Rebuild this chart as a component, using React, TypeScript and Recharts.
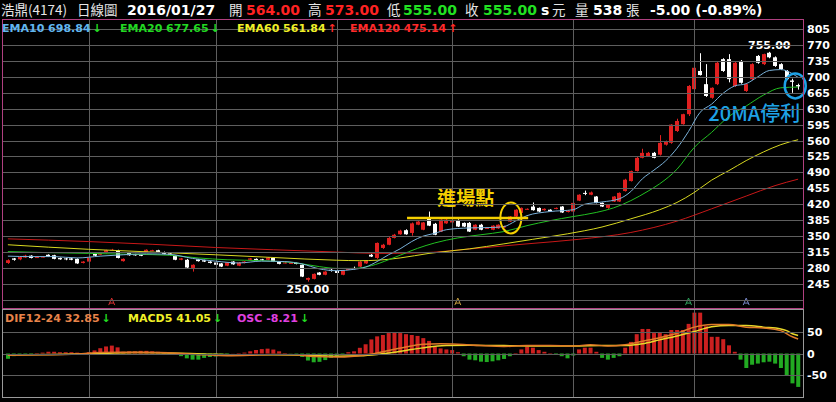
import React from "react";
import {
  ComposedChart,
  Bar,
  Line,
  XAxis,
  YAxis,
  ReferenceLine,
  ReferenceDot,
  Cell,
} from "recharts";

// Daily candles, oldest first
const opens = [
  291, 301, 299, 303, 307, 303, 304, 309, 308, 302,
  301, 301, 300, 291, 294, 311, 309, 313, 319, 318,
  295, 313, 310, 309, 315, 318, 319, 315, 312, 307,
  298, 298, 280, 299, 297, 294, 292, 290, 285, 294,
  285, 291, 298, 300, 299, 298, 302, 293, 291, 290,
  291, 287, 254, 256, 270, 265, 276, 274, 265, 277,
  280, 283, 290, 309, 302, 324, 331, 346, 354, 363,
  357, 375, 364, 390, 377, 360, 378, 380, 385, 379,
  379, 364, 375, 367, 364, 367, 369, 382, 393, 401,
  409, 415, 412, 407, 408, 410, 415, 403, 404, 428,
  445, 441, 437, 423, 412, 426, 426, 449, 471, 493,
  522, 526, 533, 529, 551, 555, 581, 596, 618, 673,
  713, 684, 654, 684, 739, 739, 680, 735, 669, 695,
  746, 728, 753, 743, 728, 713, 692, 682,
];
const highs = [
  299, 302, 306, 309, 308, 305, 306, 310, 309, 303,
  302, 302, 301, 295, 310, 312, 315, 320, 322, 320,
  301, 314, 311, 310, 321, 320, 320, 316, 313, 308,
  302, 300, 288, 300, 298, 295, 293, 291, 293, 295,
  293, 295, 302, 301, 300, 304, 303, 294, 293, 292,
  292, 288, 259, 268, 271, 273, 279, 275, 275, 279,
  283, 295, 297, 311, 336, 333, 348, 355, 364, 365,
  380, 384, 381, 404, 379, 387, 388, 387, 387, 380,
  381, 376, 377, 369, 374, 376, 373, 394, 409, 413,
  411, 424, 413, 411, 409, 413, 416, 407, 424, 442,
  450, 448, 438, 424, 420, 438, 446, 476, 494, 524,
  542, 535, 535, 572, 560, 596, 608, 619, 682, 750,
  752, 728, 677, 733, 741, 750, 733, 737, 686, 730,
  748, 751, 755, 745, 730, 715, 696, 685,
];
const lows = [
  289, 296, 297, 302, 301, 302, 303, 304, 299, 298,
  297, 297, 289, 290, 292, 306, 308, 312, 318, 301,
  294, 307, 307, 306, 314, 317, 313, 310, 308, 297,
  297, 280, 272, 294, 293, 290, 286, 282, 284, 287,
  284, 290, 297, 295, 296, 297, 293, 288, 290, 289,
  288, 260, 250, 255, 264, 264, 272, 268, 264, 276,
  277, 282, 289, 304, 300, 322, 330, 345, 353, 353,
  351, 374, 363, 372, 352, 359, 377, 379, 370, 370,
  359, 363, 363, 366, 363, 366, 368, 381, 392, 400,
  408, 406, 403, 406, 403, 409, 401, 402, 403, 427,
  440, 440, 422, 414, 410, 425, 425, 448, 470, 492,
  521, 525, 521, 527, 549, 553, 579, 595, 614, 669,
  703, 656, 652, 682, 711, 688, 678, 685, 667, 693,
  729, 726, 741, 722, 715, 693, 665, 672,
];
const closes = [
  297, 298, 304, 307, 302, 304, 305, 305, 300, 299,
  299, 298, 290, 294, 303, 307, 314, 319, 320, 302,
  300, 308, 308, 307, 320, 319, 314, 311, 309, 298,
  301, 281, 287, 295, 294, 291, 287, 283, 292, 288,
  292, 294, 301, 296, 297, 303, 294, 289, 292, 291,
  289, 261, 258, 267, 265, 272, 275, 269, 274, 278,
  279, 294, 296, 305, 335, 331, 346, 353, 362, 354,
  378, 382, 380, 373, 353, 386, 386, 385, 371, 371,
  360, 375, 364, 368, 373, 375, 372, 393, 408, 412,
  410, 407, 404, 410, 404, 412, 402, 406, 423, 441,
  444, 446, 423, 415, 419, 437, 445, 474, 493, 522,
  533, 533, 522, 555, 559, 595, 603, 618, 680, 720,
  704, 658, 676, 731, 713, 695, 731, 687, 684, 728,
  731, 750, 743, 724, 717, 695, 689, 679,
];

// Moving averages, sampled at the listed candle indexes
const ema10At = [0, 4, 8, 12, 16, 20, 24, 28, 32, 36, 40, 44, 48, 51, 54, 57, 60, 62, 64, 66, 68, 70, 72, 74, 76, 80, 84, 86, 88, 90, 94, 98, 100, 103, 106, 108, 110, 112, 114, 116, 118, 120, 122, 124, 126, 128, 130, 132, 134, 136, 137];
const ema10 = [306, 305, 305, 302, 306, 309, 311, 310, 301, 295, 291, 295, 294, 289, 278, 274, 277, 282, 294, 309, 322, 338, 350, 356, 364, 368, 369, 371, 383, 395, 404, 408, 420, 425, 432, 448, 476, 495, 515, 543, 580, 622, 640, 664, 680, 685, 700, 714, 716, 707, 698.84];
const ema20At = [0, 6, 14, 22, 28, 33, 38, 44, 50, 54, 57, 60, 63, 66, 68, 71, 74, 78, 82, 86, 90, 94, 98, 102, 105, 108, 111, 113, 116, 119, 122, 125, 128, 131, 134, 137];
const ema20 = [316, 314, 312, 310, 308, 302, 298, 296, 291, 283, 279, 279, 285, 298, 308, 323, 335, 346, 353, 360, 373, 384, 393, 402, 412, 428, 449, 465, 497, 545, 578, 613, 636, 660, 676, 677.65];
const ema60At = [0, 14, 25, 36, 46, 57, 61, 64, 68, 73, 80, 86, 91, 97, 103, 108, 113, 116, 119, 122, 125, 128, 131, 134, 137];
const ema60 = [331, 321, 315, 309, 303, 297, 296, 297, 302, 312, 322, 333, 343, 355, 370, 388, 408, 424, 446, 473, 494, 516, 535, 551, 561.84];
const ema120At = [0, 14, 25, 36, 46, 57, 64, 71, 82, 90, 99, 108, 116, 122, 128, 133, 137];
const ema120 = [344, 338, 332, 325, 320, 315, 312, 313, 324, 333, 343, 358, 383, 410, 438, 461, 475.14];

// MACD panel: oscillator per candle, DIF / MACD lines at sampled indexes
const osc = [
  -1.3, -0.65, -0.43, -0.32, -0.22, 0.11, 0.22, 0.43, 0.43, 0.32,
  0.32, 0.32, 0.22, 0.11, 0.32, 0.76, 1.3, 1.73, 1.94, 1.51,
  0.43, 0.54, 0.54, 0.65, 0.65, 0.54, 0.43, 0.32, 0.11, -0.32,
  -0.65, -1.19, -1.51, -1.51, -1.08, -0.86, -0.76, -0.54, -0.22, 0.03,
  0.11, 0.22, 0.54, 0.86, 1.08, 1.19, 0.97, 0.54, 0.11, -0.05,
  -0.11, -0.86, -1.73, -2.16, -2.05, -1.62, -1.08, -0.65, -0.32, 0.32,
  0.54, 1.4, 2.27, 3.46, 4.21, 4.54, 5.02, 5.18, 5.02, 4.75,
  4.54, 4.32, 3.78, 3.1, 1.67, 1.25, 1.0, 0.84, 0.32, -0.67,
  -1.51, -1.67, -2.01, -2.1, -1.92, -1.67, -1.34, -0.67, 0.11, 1.0,
  1.67, 1.43, 0.84, 0.42, 0.11, -0.22, -0.67, -1.18, -0.51, 1.0,
  1.43, 1.43, 0.42, -1.08, -1.51, -1.08, -0.67, 1.43, 2.85, 4.75,
  6.03, 6.03, 5.02, 5.18, 4.75, 5.78, 5.78, 5.78, 7.28, 10.04,
  10.04, 6.7, 4.1, 4.1, 3.52, 2.01, 0.42, -1.51, -3.56, -2.76,
  -2.48, -2.16, -2.01, -2.48, -3.56, -5.51, -7.34, -8.21,
];
const difAt = [0, 6, 12, 16, 20, 26, 30, 34, 38, 42, 46, 50, 53, 57, 60, 63, 66, 69, 72, 75, 78, 82, 86, 90, 94, 98, 101, 104, 107, 110, 113, 116, 119, 122, 125, 128, 131, 134, 136, 137];
const dif = [-4, -3, -1, 2, 3, 2, 0, -3, -5, -4, -2, -3, -7, -8, -6, -1, 7, 15, 21, 22, 21, 18, 16, 18, 18, 17, 20, 17, 20, 28, 36, 46, 60, 66, 66, 60, 58, 52, 38, 32.85];
const macdAt = [0, 8, 16, 22, 28, 34, 40, 46, 52, 57, 61, 64, 67, 70, 73, 76, 80, 86, 92, 98, 103, 107, 110, 113, 116, 119, 122, 125, 128, 131, 134, 135, 136, 137];
const macd = [-3, -2, 0, 2, 1, -1, -3, -3, -4, -6, -5, -2, 3, 9, 15, 18, 19, 18, 17, 17, 18, 18, 22, 31, 40, 50, 61, 64, 63.5, 60, 56, 52, 45, 41.05];

const priceTicks = [210, 245, 280, 315, 350, 385, 420, 455, 490, 525, 560, 595, 630, 665, 700, 735, 770, 805];
const macdTicks = [-50, 0, 50];
const monthIdx = [14, 36, 57, 77, 98, 119];
const signalIdx = [18, 78, 118, 128];
const signalColors = ["#d83030", "#c8a040", "#30a860", "#7888c8"];

const RED = "#e02020";
const WHITE = "#ffffff";
const GRID = "#5e5e5e";
const NUM_FONT = "'DejaVu Sans', Verdana, sans-serif";
const CJK_FONT = "'Noto Sans CJK TC', 'Noto Sans CJK SC', sans-serif";
const N = closes.length;
const PLOT_LEFT = 3;
const PLOT_RIGHT = 803;

const toMap = (at: number[], vals: number[]) => new Map(at.map((k, j) => [k, vals[j]]));
const m10 = toMap(ema10At, ema10);
const m20 = toMap(ema20At, ema20);
const m60 = toMap(ema60At, ema60);
const m120 = toMap(ema120At, ema120);
const mDif = toMap(difAt, dif);
const mMacd = toMap(macdAt, macd);

const priceRows = closes.map((c, i) => ({
  i,
  o: opens[i],
  h: highs[i],
  l: lows[i],
  c,
  hl: [lows[i], highs[i]],
  ema10: m10.get(i) ?? null,
  ema20: m20.get(i) ?? null,
  ema60: m60.get(i) ?? null,
  ema120: m120.get(i) ?? null,
}));

const macdRows = osc.map((v, i) => ({
  i,
  osc: v,
  dif: mDif.get(i) ?? null,
  macd: mMacd.get(i) ?? null,
}));

const hiVal = Math.max(...highs);
const hiIdx = highs.indexOf(hiVal);
const loVal = Math.min(...lows);
const loIdx = lows.indexOf(loVal);

const last = (a: number[]) => a[a.length - 1];

// candle drawn inside the low..high range bar
const Candle = (props: any) => {
  const { x, y, width, height, payload } = props;
  if (x == null || !payload) return <g />;
  const top = Math.min(y, y + height);
  const span = Math.abs(height);
  const { o, h, l, c } = payload;
  const range = h - l || 1;
  const toY = (v: number) => top + ((h - v) / range) * span;
  const color = c >= o ? RED : WHITE;
  const bx = Math.round(x + width / 2 - 2);
  const yTop = toY(Math.max(o, c));
  const yBot = toY(Math.min(o, c));
  return (
    <g>
      <rect x={bx + 2} y={top} width={1} height={Math.max(span, 1)} fill={color} />
      <rect x={bx} y={yTop} width={4} height={Math.max(yBot - yTop, 1)} fill={color} />
    </g>
  );
};

// vertical separators, snapped to the pixel grid
const GridLine = (p: any) => {
  const x = Math.round(p.x1) + 0.5;
  return <line x1={x} x2={x} y1={p.y1} y2={p.y2} stroke={GRID} strokeWidth={1} />;
};

// axis label plus its horizontal grid row across the panel
const AxisTick = (props: any) => {
  const { x, y, payload } = props;
  const gy = Math.round(y) + 0.5;
  return (
    <g>
      <line x1={PLOT_LEFT} x2={PLOT_RIGHT} y1={gy} y2={gy} stroke={GRID} strokeWidth={1} />
      {payload.value !== 210 && (
        <text x={x} y={y + 4} fill="#fff" fontSize={11} fontWeight={700} fontFamily={NUM_FONT}>
          {payload.value}
        </text>
      )}
    </g>
  );
};

const headSegs = [
  { t: "浩鼎(4174)", x: 1, c: "#e6e6e6", cjk: true },
  { t: "日線圖", x: 77, c: "#e6e6e6", cjk: true },
  { t: "2016/01/27", x: 127, c: "#ffffff" },
  { t: "開", x: 229, c: "#e6e6e6", cjk: true },
  { t: "564.00", x: 246, c: "#ff2222" },
  { t: "高", x: 308, c: "#e6e6e6", cjk: true },
  { t: "573.00", x: 325, c: "#ff2222" },
  { t: "低", x: 387, c: "#e6e6e6", cjk: true },
  { t: "555.00", x: 403, c: "#22e022" },
  { t: "收", x: 465, c: "#e6e6e6", cjk: true },
  { t: "555.00", x: 483, c: "#22e022" },
  { t: "s", x: 541, c: "#ffffff" },
  { t: "元", x: 552, c: "#e6e6e6", cjk: true },
  { t: "量", x: 575, c: "#e6e6e6", cjk: true },
  { t: "538", x: 593, c: "#ffffff" },
  { t: "張", x: 626, c: "#e6e6e6", cjk: true },
  { t: "-5.00 (-0.89%)", x: 650, c: "#ffffff" },
];

const UP = "#ff2a2a";
const DOWN = "#22dd22";

const emaLegend = [
  { t: `EMA10 ${last(ema10).toFixed(2)}`, x: 2, c: "#62b6ee", up: false },
  { t: `EMA20 ${last(ema20).toFixed(2)}`, x: 120, c: "#22d822", up: false },
  { t: `EMA60 ${last(ema60).toFixed(2)}`, x: 237, c: "#f0f028", up: true },
  { t: `EMA120 ${last(ema120).toFixed(2)}`, x: 350, c: "#ff2a2a", up: true },
];

const macdLegend = [
  { t: `DIF12-24 ${last(dif).toFixed(2)}`, x: 5, c: "#e8844a" },
  { t: `MACD5 ${last(macd).toFixed(2)}`, x: 128, c: "#f0f028" },
  { t: `OSC ${last(osc).toFixed(2)}`, x: 237, c: "#e040e0" },
];

const ANNOT = "#f5d000";
const EXIT = "#1ea2e6";

const gridCol = (m: number) => (
  <ReferenceLine key={`v${m}`} xAxisId="n" x={m} shape={GridLine} />
);

export default function App() {
  return (
    <div style={{ position: "absolute", left: 0, top: 0, width: 836, height: 402, background: "#000", overflow: "hidden" }}>
      {/* price panel */}
      <div style={{ position: "absolute", left: 0, top: 0 }}>
        <ComposedChart width={836} height={310} data={priceRows} margin={{ top: 20, right: 0, bottom: 2, left: PLOT_LEFT }}>
          <XAxis dataKey="i" type="category" hide padding={{ left: 2, right: 2 }} />
          <XAxis xAxisId="n" dataKey="i" type="number" domain={[-0.5, N - 0.5]} allowDataOverflow hide padding={{ left: 2, right: 2 }} />
          <YAxis
            orientation="right"
            width={33}
            domain={[192, 825]}
            allowDataOverflow
            ticks={priceTicks}
            interval={0}
            tick={AxisTick}
            axisLine={false}
            tickLine={false}
            tickSize={0}
            tickMargin={4}
          />
          {monthIdx.map(gridCol)}
          <Line dataKey="ema120" stroke="#c81818" strokeWidth={1} dot={false} connectNulls type="monotone" isAnimationActive={false} />
          <Line dataKey="ema60" stroke="#d8d820" strokeWidth={1} dot={false} connectNulls type="monotone" isAnimationActive={false} />
          <Line dataKey="ema20" stroke="#22c022" strokeWidth={1} dot={false} connectNulls type="monotone" isAnimationActive={false} />
          <Line dataKey="ema10" stroke="#7ab2da" strokeWidth={1} dot={false} connectNulls type="monotone" isAnimationActive={false} />
          <Bar dataKey="hl" barSize={4} shape={Candle} isAnimationActive={false} />

          {signalIdx.map((s, k) => (
            <ReferenceDot
              key={s}
              xAxisId="n"
              x={s}
              y={205}
              shape={(p: any) => (
                <path
                  d={`M${p.cx - 3},${p.cy + 3} L${p.cx},${p.cy - 4} L${p.cx + 3},${p.cy + 3} M${p.cx - 2},${p.cy + 1} L${p.cx + 2},${p.cy + 1}`}
                  stroke={signalColors[k]}
                  fill="none"
                  strokeWidth={1}
                />
              )}
            />
          ))}

          {/* entry level and marker */}
          <ReferenceLine xAxisId="n" segment={[{ x: 69.2, y: 390 }, { x: 90.2, y: 390 }]} stroke={ANNOT} strokeWidth={2.5} />
          <ReferenceDot
            xAxisId="n"
            x={87.2}
            y={390}
            shape={(p: any) => <ellipse cx={p.cx} cy={p.cy} rx={10.5} ry={15.5} fill="none" stroke={ANNOT} strokeWidth={2} />}
          />
          <ReferenceDot
            xAxisId="n"
            x={79.4}
            y={436}
            shape={(p: any) => (
              <text x={p.cx} y={p.cy + 8} textAnchor="middle" fill={ANNOT} fontSize={19} fontWeight={700} fontFamily={CJK_FONT}>
                進場點
              </text>
            )}
          />

          {/* exit marker */}
          <ReferenceDot
            xAxisId="n"
            x={136.5}
            y={680}
            shape={(p: any) => <ellipse cx={p.cx} cy={p.cy} rx={10.5} ry={12.5} fill="none" stroke={EXIT} strokeWidth={2.5} />}
          />
          <ReferenceDot
            xAxisId="n"
            x={129.4}
            y={620}
            shape={(p: any) => (
              <text x={p.cx} y={p.cy + 8} textAnchor="middle" fill={EXIT} fontSize={20} fontWeight={500} fontFamily={CJK_FONT}>
                20MA停利
              </text>
            )}
          />

          {/* extreme labels */}
          <ReferenceDot
            xAxisId="n"
            x={hiIdx}
            y={hiVal}
            shape={(p: any) => (
              <text x={p.cx} y={p.cy - 3} textAnchor="middle" fill="#fff" fontSize={11} fontWeight={700} fontFamily={NUM_FONT}>
                {hiVal.toFixed(2)}
              </text>
            )}
          />
          <ReferenceDot
            xAxisId="n"
            x={loIdx}
            y={loVal}
            shape={(p: any) => (
              <text x={p.cx} y={p.cy + 11} textAnchor="middle" fill="#fff" fontSize={11} fontWeight={700} fontFamily={NUM_FONT}>
                {loVal.toFixed(2)}
              </text>
            )}
          />
        </ComposedChart>
      </div>

      {/* MACD panel */}
      <div style={{ position: "absolute", left: 0, top: 300 }}>
        <ComposedChart width={836} height={102} data={macdRows} margin={{ top: 10, right: 0, bottom: 5, left: PLOT_LEFT }}>
          <XAxis dataKey="i" type="category" hide padding={{ left: 2, right: 2 }} />
          <XAxis xAxisId="n" dataKey="i" type="number" domain={[-0.5, N - 0.5]} allowDataOverflow hide padding={{ left: 2, right: 2 }} />
          <YAxis
            orientation="right"
            width={33}
            domain={[-99, 99]}
            allowDataOverflow
            ticks={macdTicks}
            interval={0}
            tick={AxisTick}
            axisLine={false}
            tickLine={false}
            tickSize={0}
            tickMargin={4}
          />
          <YAxis yAxisId="osc" hide domain={[-10.69, 10.69]} allowDataOverflow />
          {monthIdx.map(gridCol)}
          <Bar dataKey="osc" yAxisId="osc" barSize={4} isAnimationActive={false}>
            {macdRows.map((r) => (
              <Cell key={r.i} fill={r.osc >= 0 ? "#cc2020" : "#22aa22"} />
            ))}
          </Bar>
          <Line dataKey="macd" stroke="#e8d828" strokeWidth={1.5} dot={false} connectNulls type="monotone" isAnimationActive={false} />
          <Line dataKey="dif" stroke="#e07a28" strokeWidth={1.5} dot={false} connectNulls type="monotone" isAnimationActive={false} />
        </ComposedChart>
      </div>

      {/* panel frames */}
      <div style={{ position: "absolute", left: 2, top: 19, width: 802, height: 290, boxSizing: "border-box", border: "1px solid #b04080" }} />
      <div style={{ position: "absolute", left: 2, top: 309, width: 802, height: 89, boxSizing: "border-box", border: "1px solid #9a9a9a" }} />

      {/* header and legends */}
      <svg width={836} height={402} style={{ position: "absolute", left: 0, top: 0, pointerEvents: "none" }}>
        {headSegs.map((s, k) => (
          <text
            key={k}
            x={s.x}
            y={15}
            fill={s.c}
            fontSize={s.cjk ? 13.5 : 14}
            fontWeight={s.cjk ? 400 : 700}
            fontFamily={s.cjk ? CJK_FONT : NUM_FONT}
          >
            {s.t}
          </text>
        ))}
        {emaLegend.map((s, k) => (
          <text key={k} x={s.x} y={32} fill={s.c} fontSize={11} fontWeight={700} fontFamily={NUM_FONT}>
            {s.t}
            <tspan dx={2} fill={s.up ? UP : DOWN}>
              {s.up ? "↑" : "↓"}
            </tspan>
          </text>
        ))}
        {macdLegend.map((s, k) => (
          <text key={k} x={s.x} y={322} fill={s.c} fontSize={11} fontWeight={700} fontFamily={NUM_FONT}>
            {s.t}
            <tspan dx={2} fill={DOWN}>
              ↓
            </tspan>
          </text>
        ))}
      </svg>
    </div>
  );
}
